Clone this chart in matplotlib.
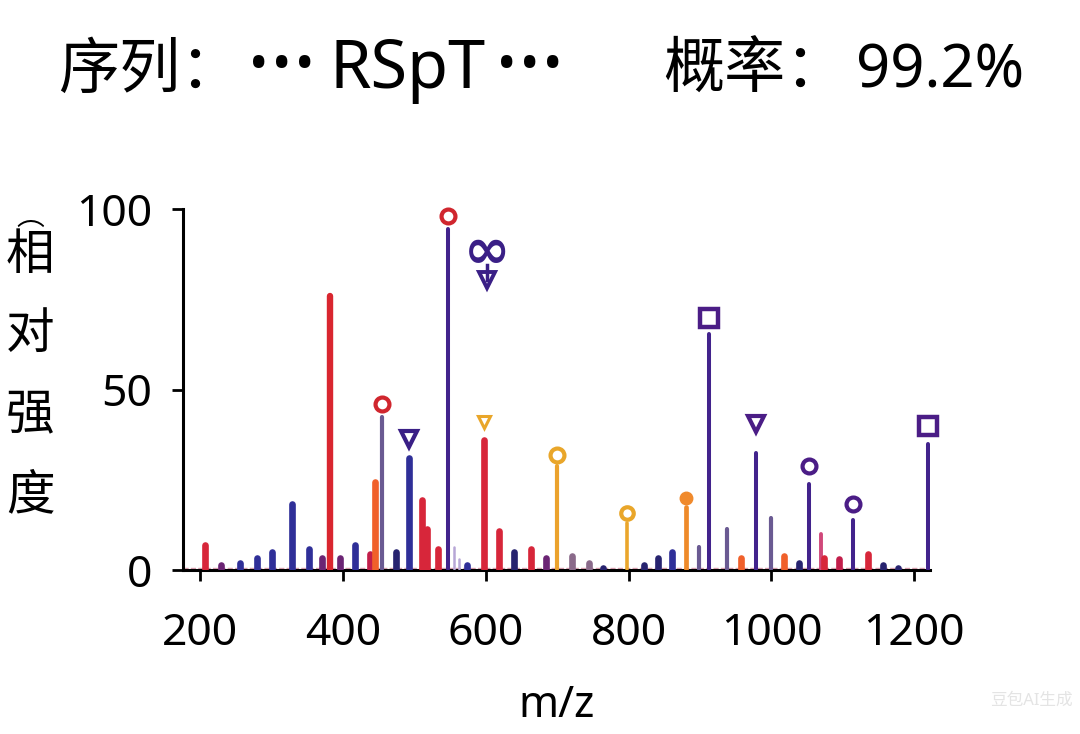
import matplotlib
matplotlib.use("Agg")
import matplotlib.pyplot as plt

plt.rcParams["font.family"] = ["Noto Sans", "Noto Sans CJK SC", "DejaVu Sans"]

# peak list: m/z, relative intensity, colour group
MZ = [207, 229, 256, 280, 301, 328, 352, 371, 381, 396, 416, 437, 444, 454,
      474, 492, 510, 517, 533, 547, 555, 562, 573, 597, 618, 639, 663, 684,
      699, 721, 745, 764, 798, 822, 841, 861, 881, 899, 913, 938, 958, 979,
      1000, 1018, 1038, 1053, 1070, 1073, 1094, 1114, 1135, 1157, 1178, 1220]
INTENSITY = [7, 1.5, 2, 3.5, 5, 18.5, 6, 3.5, 76, 3.5, 7, 4.5, 24.5, 42.5,
             5, 31, 19.5, 11.5, 6, 94.5, 6.5, 3, 1.5, 36, 11, 5, 6, 3.5,
             29, 4, 2, 0.6, 13, 1.5, 3.5, 5, 17.5, 6.5, 65.5, 11.5, 3.5, 32.5,
             14.5, 4, 2, 24, 10, 3.5, 3, 14, 4.5, 1.5, 0.6, 35]
GROUP = ["red", "plum", "blue", "blue", "blue", "blue", "blue", "plum", "red_tall", "plum",
         "blue", "crimson", "orange", "slate", "navy", "blue", "red", "red", "red",
         "violet", "lilac", "lilac", "blue", "red", "red", "navy", "red", "plum",
         "amber", "slate_s", "slate_s", "navy", "amber_thin", "navy", "navy", "blue",
         "orange_thin", "slate", "violet", "slate", "orange", "violet", "slate",
         "orange", "navy", "violet", "pink", "red", "crimson", "violet", "red",
         "navy", "navy", "violet"]

# annotation symbols above peaks: m/z, height, symbol, colour
ANN_MZ = [454, 492, 547, 597, 699, 798, 881, 913, 979, 1053, 1114, 1220]
ANN_Y = [46, 36.5, 98, 41, 32, 16, 20, 70, 40.5, 29, 18.5, 40]
ANN_SYM = ["o", "v", "o", "v", "o", "o", "filled", "s", "v", "o", "o", "s"]
ANN_COL = ["#d0262e", "#3a1f86", "#d0262e", "#e9a62a", "#e9a62a", "#e9a62a",
           "#f08a2c", "#4b1d86", "#4b1d86", "#4b1d86", "#4b1d86", "#4b1d86"]

STYLE = {
    "red": ("#d7263a", 4.8), "red_tall": ("#d9262f", 4.6), "crimson": ("#c21e4a", 4.8),
    "plum": ("#6b2474", 4.8), "blue": ("#2f2f98", 4.8), "navy": ("#27236f", 4.8),
    "orange": ("#f0602a", 4.8), "orange_thin": ("#ee8a2a", 3.4),
    "amber": ("#eba22d", 3.0), "amber_thin": ("#eaa62c", 2.6),
    "slate": ("#6a5a92", 3.0), "slate_s": ("#8a6a8a", 4.8),
    "violet": ("#42238c", 2.9), "lilac": ("#b7a6d6", 1.8), "pink": ("#d0487a", 2.8),
}

fig = plt.figure(figsize=(10.8, 7.34), dpi=100)
ax = fig.add_axes([0.169, 0.223, 0.692, 0.492])

for x, y, g in zip(MZ, INTENSITY, GROUP):
    c, lw = STYLE[g]
    ax.plot([x, x], [0.4, y], color=c, lw=lw, solid_capstyle="round", zorder=3)

ax.axhline(0.6, color="#d9a0b0", lw=1.0, ls="--", zorder=2)

for x, y, s, c in zip(ANN_MZ, ANN_Y, ANN_SYM, ANN_COL):
    if s == "filled":
        ax.plot(x, y, "o", ms=9, color=c, clip_on=False, zorder=4)
    elif s == "s":
        ax.plot(x, y, "s", ms=13, mfc="white", mec=c, mew=3.2, clip_on=False, zorder=4)
    elif s == "v":
        small = c == "#e9a62a"
        ax.plot(x, y, "v", ms=8 if small else 12, mfc="white", mec=c,
                mew=2.2 if small else 3.0, clip_on=False, zorder=4)
    else:
        small = c == "#e9a62a" and y < 20
        ax.plot(x, y, "o", ms=9 if small else 10, mfc="white", mec=c, mew=3.0,
                clip_on=False, zorder=4)

# floating glyphs near m/z 600
ax.text(601, 88, "∞", color="#3a1f86", fontsize=40, ha="center", va="center",
        family="DejaVu Sans", fontweight="bold", zorder=4)
ax.plot(601, 80.5, "v", ms=11, mfc="white", mec="#3a1f86", mew=2.8, clip_on=False, zorder=4)
ax.plot([601, 601], [80.5, 84.5], color="#3a1f86", lw=2.5, zorder=4)

ax.set_xlim(175, 1222)
ax.set_ylim(0, 100)
ax.set_xticks([200, 400, 600, 800, 1000, 1200])
ax.set_yticks([0, 50, 100])
ax.tick_params(labelsize=32, width=2, length=8, direction="out")
ax.tick_params(axis="x", pad=22)
ax.tick_params(axis="y", pad=14)
for side in ("top", "right"):
    ax.spines[side].set_visible(False)
for side in ("left", "bottom"):
    ax.spines[side].set_linewidth(2.2)
ax.set_xlabel("m/z", fontsize=31, labelpad=20)

# title, placed piece by piece (pixel x positions / 1080)
W, H = 1080, 734
base = 1 - 88 / H
fig.text(58 / W, base, "序列：", fontsize=44, ha="left", va="baseline",
         family="Noto Sans CJK SC")
for px in (259, 282, 305, 507, 530, 553):
    fig.text(px / W, 1 - 67 / H, "•", fontsize=37, ha="center", va="center")
fig.text(330 / W, base, "RSpT", fontsize=48, ha="left", va="baseline")
fig.text(663 / W, base, "概率：", fontsize=44, ha="left", va="baseline",
         family="Noto Sans CJK SC")
fig.text(856 / W, base, "99.2%", fontsize=43, ha="left", va="baseline")

ylab = ["︵", "相", "对", "强", "度"]
ypos = [0.705, 0.652, 0.545, 0.435, 0.325]
for ch, yy in zip(ylab, ypos):
    fig.text(0.028, yy, ch, fontsize=35 if ch != "︵" else 20,
             ha="center", va="center", family="Noto Sans CJK SC")

fig.text(0.955, 0.045, "豆包AI生成", fontsize=12, color="#e4e4e4",
         ha="center", va="center")

fig.savefig("out.png", dpi=100)
